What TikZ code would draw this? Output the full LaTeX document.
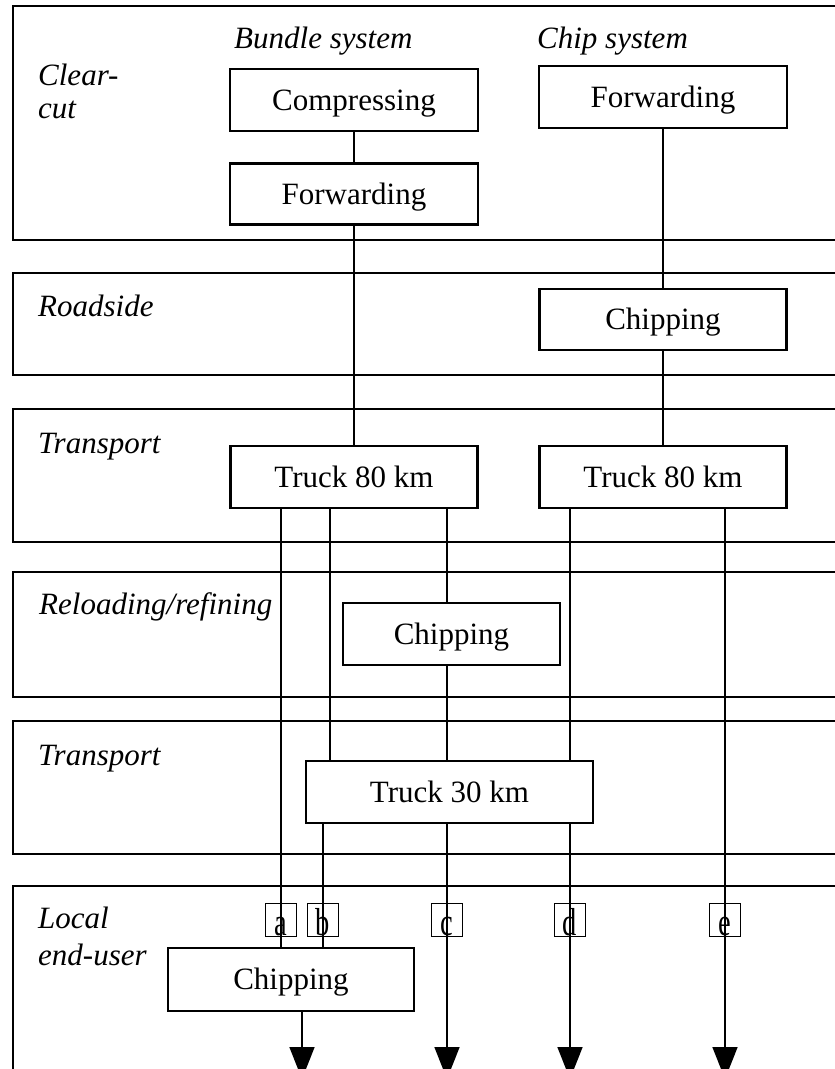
\documentclass[tikz,border=0pt]{standalone}
\usepackage{fontspec}
\usepackage{graphicx}
\setmainfont{Liberation Serif}
\usetikzlibrary{arrows.meta}
\begin{document}
\begin{tikzpicture}[x=1pt,y=-1pt,
  band/.style={draw, line width=2.6pt},
  stepbox/.style={draw, line width=2.1pt, minimum height=62pt, inner sep=0pt,
     text height=21pt, text depth=1pt, font=\fontsize{31}{34}\selectfont},
  lbl/.style={anchor=base west, inner sep=0pt, font=\fontsize{31}{34}\selectfont\itshape},
  conn/.style={line width=1.7pt},
  arr/.style={conn, -{Triangle[length=32pt,width=25pt]}},
  letterbox/.style={draw, line width=1.7pt, minimum width=31pt, minimum height=33pt,
     inner sep=0pt, text height=31pt, text depth=0pt, font=\fontsize{30}{30}\selectfont}
]
\useasboundingbox (0,0) rectangle (835,1069);
\fill[white] (0,0) rectangle (835,1069);
\clip (0,0) rectangle (835,1069);

% bands
\draw[band] (13,6) rectangle (850,240);
\draw[band] (13,273) rectangle (850,375);
\draw[band] (13,409) rectangle (850,542);
\draw[band] (13,572) rectangle (850,697);
\draw[band] (13,721) rectangle (850,854);
\draw[band] (13,886) rectangle (850,1100);

% band labels
\node[lbl] (clear1) at (38,85) {Clear-};
\node[lbl] (clear2) at (38,118) {cut};
\node[lbl] (bundle) at (234,48) {Bundle system};
\node[lbl] (chipsys) at (537,48) {Chip system};
\node[lbl] (road) at (38,316) {Roadside};
\node[lbl] (trans1) at (38,453) {Transport};
\node[lbl] (reload) at (39,614) {Reloading/refining};
\node[lbl] (trans2) at (38,765) {Transport};
\node[lbl] (local1) at (38,928) {Local};
\node[lbl] (local2) at (38,965) {end-user};

% process boxes
\node[stepbox, minimum width=248pt] (comp) at (354,100) {Compressing};
\node[stepbox, minimum width=248pt, minimum height=61pt] (fwdB) at (354,194) {Forwarding};
\node[stepbox, minimum width=248pt] (fwdC) at (663,97) {Forwarding};
\node[stepbox, minimum width=247pt, minimum height=61pt] (chipR) at (663,319.5) {Chipping};
\node[stepbox, minimum width=247pt] (truckA) at (354,477) {Truck 80 km};
\node[stepbox, minimum width=247pt] (truckB) at (663,477) {Truck 80 km};
\node[stepbox, minimum width=217pt] (chipRel) at (451.5,634) {Chipping};
\node[stepbox, minimum width=287pt] (truck30) at (449.5,792) {Truck 30 km};
\node[stepbox, minimum width=246pt, minimum height=63pt] (chipL) at (291,979.5) {Chipping};

% letter boxes
\node[letterbox] (a) at (281,920) {\scalebox{0.95}[1.3]{a}};
\node[letterbox] (b) at (323,920) {\scalebox{0.95}[1.3]{b}};
\node[letterbox] (c) at (447,920) {\scalebox{0.95}[1.3]{c}};
\node[letterbox] (d) at (570,920) {\scalebox{0.95}[1.3]{d}};
\node[letterbox] (e) at (725,920) {\scalebox{0.95}[1.3]{e}};

% column helpers
\coordinate (b1) at (330,0);
\coordinate (endL) at (302,1079);
\coordinate (endC) at (447,1079);
\coordinate (endD) at (570,1079);
\coordinate (endE) at (725,1079);

% connectors
\draw[conn] (comp.south) -- (fwdB.north);
\draw[conn] (fwdB.south) -- (fwdB.south |- truckA.north);
\draw[conn] (fwdC.south) -- (fwdC.south |- chipR.north);
\draw[conn] (chipR.south) -- (chipR.south |- truckB.north);

% a
\draw[conn] (truckA.south -| a) -- (chipL.north -| a);
% b
\draw[conn] (truckA.south -| b1) -- (truck30.north -| b1);
\draw[conn] (truck30.south -| b) -- (chipL.north -| b);
% c
\draw[conn] (truckA.south -| c) -- (chipRel.north -| c);
\draw[conn] (chipRel.south -| c) -- (truck30.north -| c);
\draw[arr] (truck30.south -| c) -- (endC);
% d
\draw[conn] (truckB.south -| d) -- (truck30.north -| d);
\draw[arr] (truck30.south -| d) -- (endD);
% e
\draw[arr] (truckB.south -| e) -- (endE);
% local chipping output
\draw[arr] (chipL.south -| endL) -- (endL);
\end{tikzpicture}
\end{document}
